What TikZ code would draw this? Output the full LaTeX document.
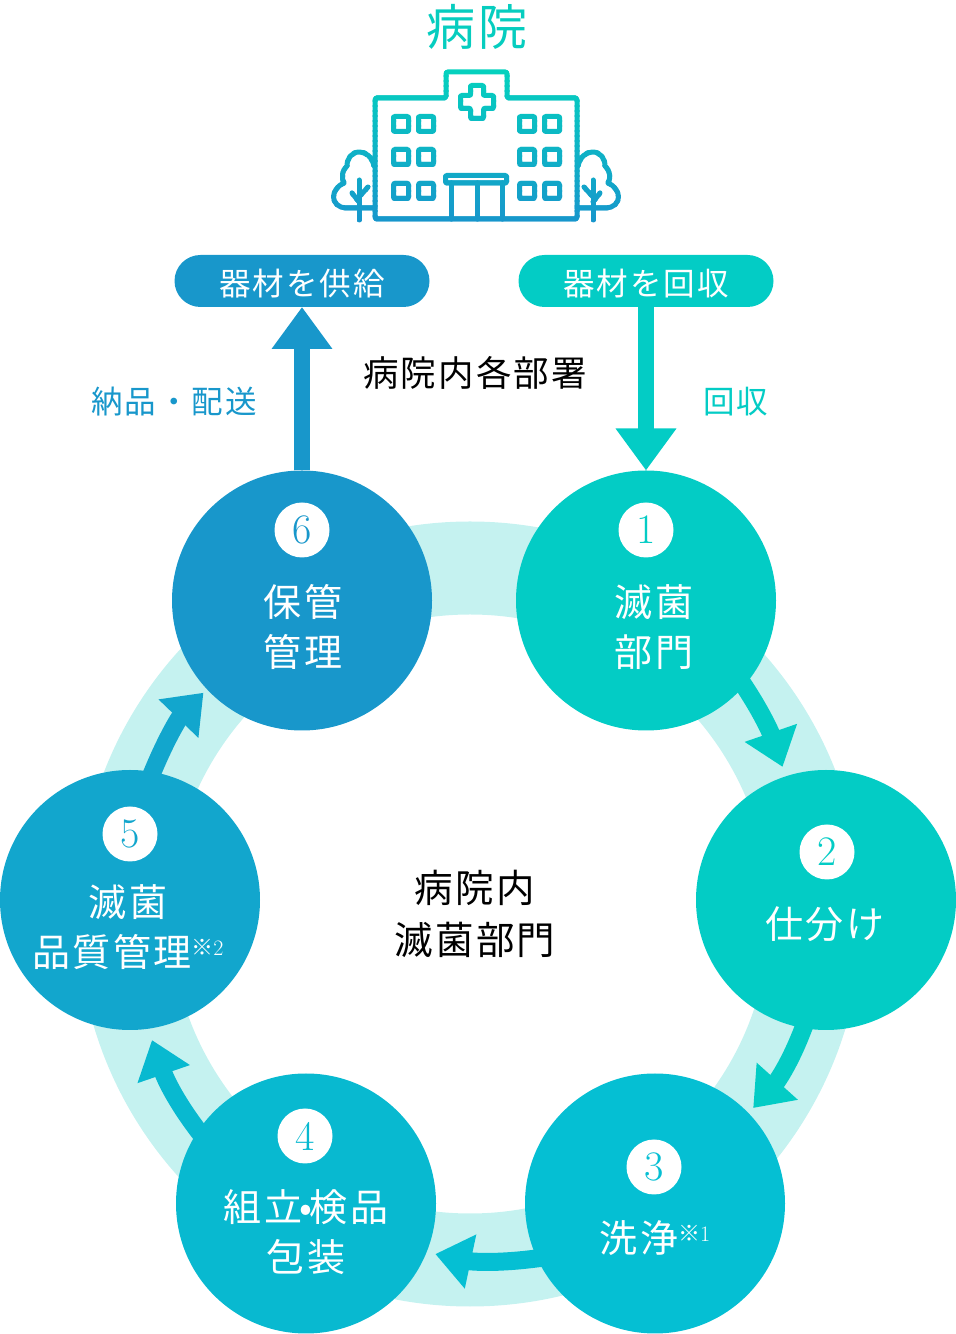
\documentclass[tikz,border=0pt]{standalone}
\usepackage{fontspec}
\usetikzlibrary{arrows.meta}
\newfontfamily\jpfont[LetterSpace=6]{Noto Sans CJK JP}
\definecolor{tealA}{HTML}{03CCC5}
\definecolor{tealB}{HTML}{05BFD3}
\definecolor{tealC}{HTML}{08B9D0}
\definecolor{blueA}{HTML}{12A6CD}
\definecolor{blueB}{HTML}{1897CB}
\definecolor{ringcol}{HTML}{C5F2F0}
\definecolor{icontop}{HTML}{04D3BE}
\definecolor{iconbot}{HTML}{1796CC}
\tikzset{
  stage/.style={circle, minimum size=260pt, inner sep=0pt, outer sep=0pt, fill=#1},
  numdisc/.style={circle, minimum size=55pt, inner sep=0pt, fill=white, text=#1, font=\fontsize{42}{42}\selectfont},
  stagetext/.style={text=white, align=center, inner sep=0pt, font=\jpfont\fontsize{38}{50}\selectfont},
  pill/.style={rounded corners=26pt, minimum width=255pt, minimum height=52pt, inner sep=0pt, outer sep=0pt, fill=#1, text=white, text height=29.5pt, text depth=0pt, font=\jpfont\fontsize{31.5}{31.5}\selectfont},
  sidetext/.style={text=#1, inner sep=0pt, font=\jpfont\fontsize{31.5}{31.5}\selectfont},
  darktext/.style={text=black, align=center, inner sep=0pt, font=\jpfont\fontsize{#1}{52}\selectfont},
  bigarrow/.style={draw=#1, line width=16pt, -{Triangle[width=58pt,length=42pt]}},
  ringarrow/.style={draw=#1, line width=18pt, shorten <=-6pt, -{Triangle[width=53pt,length=36pt]}},
}
\newcommand{\supnote}[1]{\raisebox{11pt}{\fontsize{22}{22}\selectfont ※{\rmfamily #1}}}
\newcommand{\hospitaltree}{
  \draw (374,166) .. controls (372,157) and (366,152) .. (359.5,152) .. controls (352,152) and (347,158) .. (347,166) .. controls (342,170) and (341,178) .. (344,183) .. controls (337,186) and (333.5,192) .. (333.5,197) .. controls (333.5,203) and (339,208) .. (346,208) -- (375,208);
  \draw (359,180) -- (359,220);
  \draw (368,187) -- (359,197);
  \draw (352,193) -- (359,202);
}
\newcommand{\hospitalicon}{
  \draw[rounded corners=1.5pt] (375,219) -- (375,98) -- (446,98) -- (446,72) -- (507,72) -- (507,98) -- (577,98) -- (577,219) -- cycle;
  % cross
  \draw[rounded corners=1pt] (470.5,85.5) -- (483.5,85.5) -- (483.5,95.5) -- (493.5,95.5) -- (493.5,108.5) -- (483.5,108.5) -- (483.5,118.5) -- (470.5,118.5) -- (470.5,108.5) -- (460.5,108.5) -- (460.5,95.5) -- (470.5,95.5) -- cycle;
  % windows
  \foreach \wx in {401,426,527,552}
    \foreach \wy in {124,157,191}
      \draw[rounded corners=1pt] (\wx-7.5,\wy-7.5) rectangle (\wx+7.5,\wy+7.5);
  % door
  \draw[rounded corners=1pt] (445.5,175.5) rectangle (506.5,183);
  \draw (451,183) -- (451,219);
  \draw (477,183) -- (477,219);
  \draw (502,183) -- (502,219);
  \hospitaltree
  \begin{scope}[xshift=952pt,xscale=-1]
    \hospitaltree
  \end{scope}
}
\begin{document}
\begin{tikzpicture}[x=1pt,y=1pt]
\useasboundingbox (0,0) rectangle (956,1334);
% ring behind the stages
\coordinate (ringc) at (470,420);
\draw[ringcol, line width=93pt] (ringc) circle (346);
% stages
\node[stage=tealA] (n1) at (646,733.5) {};
\node[stage=tealA] (n2) at (826,434) {};
\node[stage=tealB] (n3) at (655,130.5) {};
\node[stage=tealC] (n4) at (306,130.5) {};
\node[stage=blueA] (n5) at (130,434) {};
\node[stage=blueB] (n6) at (302,733.5) {};
% numbers
\node[numdisc=tealA] (d1) at (646,804) {1};
\node[numdisc=tealA] (d2) at (827,482) {2};
\node[numdisc=tealB] (d3) at (654,167) {3};
\node[numdisc=tealC] (d4) at (305,198) {4};
\node[numdisc=blueA] (d5) at (130,500) {5};
\node[numdisc=blueB] (d6) at (302,804) {6};
% stage names
\node[stagetext] (t1) at (654,707) {滅菌\\部門};
\node[stagetext] (t2) at (825,410) {仕分け};
\node[stagetext] (t3) at (655,96) {洗浄\supnote{1}};
\node[stagetext] (t4) at (306,102) {組立\hspace{-2.5pt}•\hspace{-2.5pt}検品\\包装};
\node[stagetext] (t5) at (128,407) {滅菌\\品質管理\supnote{2}};
\node[stagetext] (t6) at (303,707) {保管\\管理};
\node[darktext=38.5] (mid) at (475,420) {病院内\\滅菌部門};
% top part
\node[text=icontop!90!blueB, inner sep=0pt, font=\jpfont\fontsize{49}{49}\selectfont] (title) at (477,1307) {病院};
\node[pill=blueB] (supply) at (302,1053) {器材を供給};
\node[pill=tealA] (collect) at (646,1053) {器材を回収};
\node[darktext=35.5] (dept) at (475,961) {病院内各部署};
\node[sidetext=blueB] (deliver) at (174,932) {納品・配送};
\node[sidetext=tealA] (back) at (736,932) {回収};
\path[bigarrow=blueB] (n6) -- (supply);
\path[bigarrow=tealA] (collect) -- (n1);
% arrows on the ring
\path[ringarrow=tealA, shorten >=10pt] (n1.-41) to[out=-56, in=109] (n2.108);
\path[ringarrow=tealA, shorten >=7pt] (n2.-100) to[out=-110, in=48] (n3.44);
\path[ringarrow=tealB, shorten >=9pt] (n3.205) to[out=188, in=-12] (n4.-22);
\path[ringarrow=tealC, shorten >=12pt] (n4.146) to[out=128, in=-71] (n5.-82);
\path[ringarrow=blueA, shorten >=5pt] (n5.80) to[out=68, in=226] (n6.223);
% icon, painted in bands for the colour fade
\begin{scope}[y=-1pt, yshift=1334pt, line width=5pt, line cap=round, line join=round]
  \foreach \i in {0,...,31} {
    \pgfmathsetmacro{\mixval}{100*\i/31}
    \colorlet{bandcol}{iconbot!\mixval!icontop}
    \begin{scope}
      \clip (320,{66+\i*5}) rectangle (640,{66+\i*5+5.4});
      \begin{scope}[bandcol]
        \hospitalicon
      \end{scope}
    \end{scope}
  }
\end{scope}
\end{tikzpicture}
\end{document}
